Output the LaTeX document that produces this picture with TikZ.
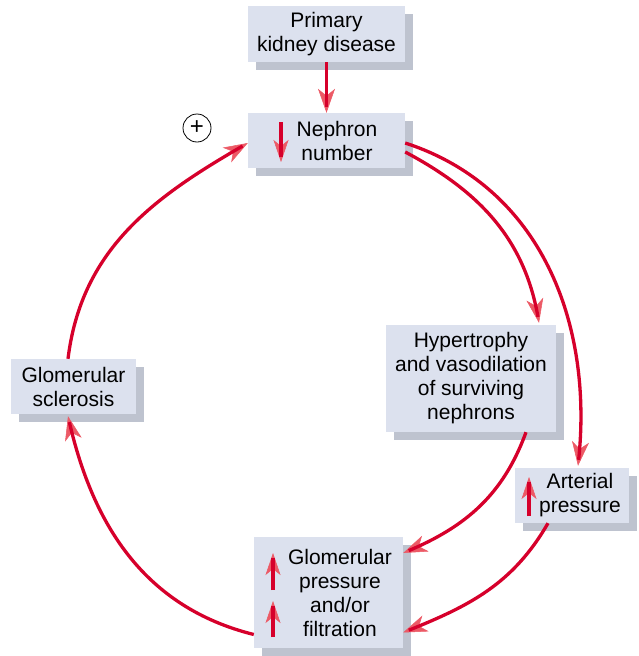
\documentclass[tikz,border=0pt]{standalone}
\usepackage{fontspec}
\setmainfont{Liberation Sans}
\usetikzlibrary{arrows.meta,shadows,decorations.markings}
\definecolor{redc}{HTML}{D6002B}
\definecolor{headc}{HTML}{EC5A66}
\definecolor{boxc}{HTML}{DCE1EE}
\definecolor{shadc}{HTML}{BEC3CF}
\begin{document}
\begin{tikzpicture}[x=1pt,y=1pt,
 box/.style={fill=boxc, draw=none, inner sep=0, drop shadow={shadow xshift=8pt, shadow yshift=-8pt, fill=shadc, opacity=1}},
 lbl/.style={align=center, inner sep=0, font=\fontsize{21}{24}\selectfont},
 conn/.style={draw=redc, line width=3.3pt, shorten >=6pt,
   preaction={decorate, decoration={markings, mark=at position 0.9999 with {\arrow[headc]{Stealth[length=24pt,width=17pt,inset=7pt,line width=0.5pt]}\pgfsetlinewidth{3.3pt}}}}},
 updown/.style={draw=redc, line width=3.3pt, shorten >=5pt,
   preaction={decorate, decoration={markings, mark=at position 0.9999 with {\arrow[headc]{Stealth[length=22pt,width=15pt,inset=6pt,line width=0.5pt]}\pgfsetlinewidth{3.3pt}}}}}
]
\useasboundingbox (0,0) rectangle (639,-656);
% boxes
\node[box, lbl, minimum width=157pt, minimum height=56pt] (prim) at (326.5,-34) {Primary\\kidney disease};
\node[box, minimum width=157pt, minimum height=55pt] (neph) at (326.5,-140.5) {};
\node[lbl] (nephT) at (337,-140.5) {Nephron\\number};
\node[box, lbl, minimum width=170pt, minimum height=107pt] (hyp) at (471,-378.5) {Hypertrophy\\and vasodilation\\of surviving\\nephrons};
\node[box, minimum width=114pt, minimum height=55pt] (art) at (572,-495.5) {};
\node[lbl] (artT) at (580,-495.5) {Arterial\\pressure};
\node[box, minimum width=149pt, minimum height=111pt] (glom) at (328.5,-592.5) {};
\node[lbl] (glomT) at (340,-592.5) {Glomerular\\pressure\\and/or\\filtration};
\node[box, lbl, minimum width=125pt, minimum height=55pt] (scl) at (73.5,-386.5) {Glomerular\\sclerosis};
% plus sign
\node[draw, circle, line width=0.8pt, minimum size=28pt, inner sep=0, font=\fontsize{24}{24}\selectfont] (plus) at (197,-128) {+};
% small arrows in boxes
\coordinate (n1) at (281,-122); \coordinate (n2) at (281,-162);
\draw[updown] (n1) -- (n2);
\coordinate (a1) at (529,-516); \coordinate (a2) at (529,-477);
\draw[updown] (a1) -- (a2);
\coordinate (g1) at (273,-590); \coordinate (g2) at (273,-553);
\draw[updown] (g1) -- (g2);
\coordinate (g3) at (273,-637); \coordinate (g4) at (273,-601);
\draw[updown] (g3) -- (g4);
% connectors
\draw[conn] (prim.south) -- (neph.north);
\draw[conn] ([yshift=-11.5pt]neph.east) to[out=-28,in=100] ([xshift=68pt,yshift=2pt]hyp.north);
\draw[conn] ([yshift=-2.5pt]neph.east) to[out=-18,in=84] ([xshift=6pt,yshift=2pt]art.north);
\draw[conn] ([xshift=55pt]hyp.south) to[out=-110,in=23] ([yshift=39.5pt]glom.east);
\draw[conn] ([xshift=-24pt]art.south) to[out=-120,in=22] ([yshift=-40pt]glom.east);
\draw[conn] ([yshift=-42pt]glom.west) to[out=166,in=-77] ([xshift=-5.5pt,yshift=-2pt]scl.south);
\draw[conn] ([xshift=-5.5pt]scl.north) to[out=83,in=210] ([yshift=-2.5pt]neph.west);
\end{tikzpicture}
\end{document}
